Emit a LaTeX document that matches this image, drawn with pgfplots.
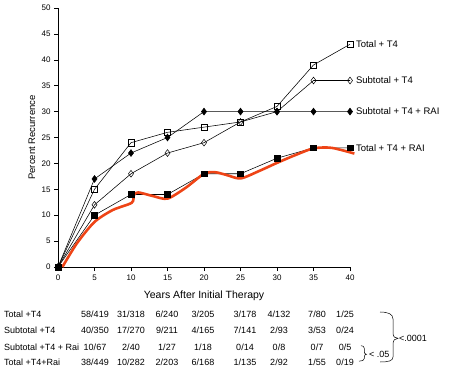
\documentclass[border=0pt]{standalone}
\usepackage{pgfplots}
\pgfplotsset{compat=1.18}
\usepackage{fontspec}
\setmainfont{Liberation Sans}
\definecolor{redline}{RGB}{238,68,22}
\begin{document}
\begin{tikzpicture}[x=1pt,y=1pt]
\path[use as bounding box] (0,0) rectangle (457,369);
\begin{axis}[
  at={(58pt,102pt)}, anchor=south west,
  scale only axis, width=292pt, height=259pt,
  xmin=0, xmax=40, ymin=0, ymax=50,
  xtick={0,5,...,40}, ytick={0,5,...,50},
  axis x line*=bottom, axis y line*=left,
  axis line style={black, line width=0.6pt},
  tick style={black, line width=0.5pt},
  tick align=outside, major tick length=4pt,
  tick label style={font=\fontsize{8}{9}\selectfont},
  /pgf/number format/assume math mode=true,
  xlabel={Years After Initial Therapy},
  xlabel style={font=\fontsize{10.5}{12}\selectfont, at={(axis description cs:0.5,0)}, anchor=north, yshift=-20pt},
  clip=false,
  every axis plot/.append style={line width=0.55pt, black},
]
\addplot[mark=square, mark size=3.2pt, mark options={fill=white, line width=0.5pt}] coordinates {
(0,0) (5,15) (10,24) (15,26) (20,27) (25,28) (30,31) (35,39) (40,43)};
\addplot[mark=diamond, mark size=3.4pt, mark options={fill=white, line width=0.5pt}] coordinates {
(0,0) (5,12) (10,18) (15,22) (20,24) (25,28) (30,30) (35,36) (40,36)};
\addplot[mark=diamond*, mark size=3.4pt, mark options={fill=black}] coordinates {
(0,0) (5,17) (10,22) (15,25) (20,30) (25,30) (30,30) (35,30) (40,30)};
\addplot[mark=square*, mark size=2.8pt, mark options={fill=black}] coordinates {
(0,0) (5,10) (10,14) (15,14) (20,18) (25,18) (30,21) (35,23) (40,23)};
\addplot[redline, line width=2.6pt, smooth, tension=0.45, mark=none] coordinates {
(0.6,0) (2.6,4.6) (5,8.7) (7.5,11) (10.1,12.4) (10.4,13.9) (11,14.4) (13,13.7) (15,13.2) (17.5,15.3) (20,18) (21.5,18.3) (23,17.8) (25,17.1) (27.5,18.5) (30,20.1) (32.5,21.6) (35,22.9) (37.5,23) (40.6,21.9)};
\node[anchor=west, font=\fontsize{9.5}{11}\selectfont, inner sep=0pt] at (axis cs:40.8,43) {Total + T4};
\node[anchor=west, font=\fontsize{9.5}{11}\selectfont, inner sep=0pt] at (axis cs:40.8,36) {Subtotal + T4};
\node[anchor=west, font=\fontsize{9.5}{11}\selectfont, inner sep=0pt] at (axis cs:40.8,30) {Subtotal + T4 + RAI};
\node[anchor=west, font=\fontsize{9.5}{11}\selectfont, inner sep=0pt] at (axis cs:40.8,23) {Total + T4 + RAI};
\end{axis}
\node[rotate=90, font=\fontsize{9.5}{11}\selectfont, inner sep=0pt] at (32,231.5) {Percent Recurrence};
% table
\begin{scope}[every node/.style={font=\fontsize{9}{10}\selectfont, inner sep=0pt}]
\foreach \y/\lab in {54.5/{Total +T4}, 38.5/{Subtotal +T4}, 21.5/{Subtotal +T4 + Rai}, 7/{Total +T4+Rai}}
  \node[anchor=west] at (4,\y) {\lab};
\foreach \x/\a/\b/\c/\d in {95/58\slash419/40\slash350/10\slash67/38\slash449,
  131/31\slash318/17\slash270/2\slash40/10\slash282,
  167/6\slash240/9\slash211/1\slash27/2\slash203,
  203/3\slash205/4\slash165/1\slash18/6\slash168,
  245/3\slash178/7\slash141/0\slash14/1\slash135,
  279/4\slash132/2\slash93/0\slash8/2\slash92,
  317/7\slash80/3\slash53/0\slash7/1\slash55,
  345/1\slash25/0\slash24/0\slash5/0\slash19}{
  \node at (\x,54.5) {\a};
  \node at (\x,38.5) {\b};
  \node at (\x,21.5) {\c};
  \node at (\x,7) {\d};
}
\draw[line width=0.5pt] (380,57) .. controls (388,57) and (393,55) .. (393,50) -- (393,36) .. controls (393,32) and (395,31) .. (398,30.7)
  .. controls (395,30.4) and (393,29) .. (393,25) -- (393,12) .. controls (393,8) and (388,7) .. (380,7);
\draw[line width=0.5pt] (361,23.3) .. controls (363,23.3) and (364.3,22.5) .. (364.3,20.5) -- (364.3,17.5) .. controls (364.3,15.5) and (365,14.9) .. (366.5,14.7)
  .. controls (365,14.5) and (364.3,13.8) .. (364.3,12) -- (364.3,10.5) .. controls (364.3,8.6) and (362,7.8) .. (359,7.8);
\node[anchor=west] at (399,30.7) {<.0001};
\node[anchor=west] at (369,14.7) {< .05};
\end{scope}
\end{tikzpicture}
\end{document}
